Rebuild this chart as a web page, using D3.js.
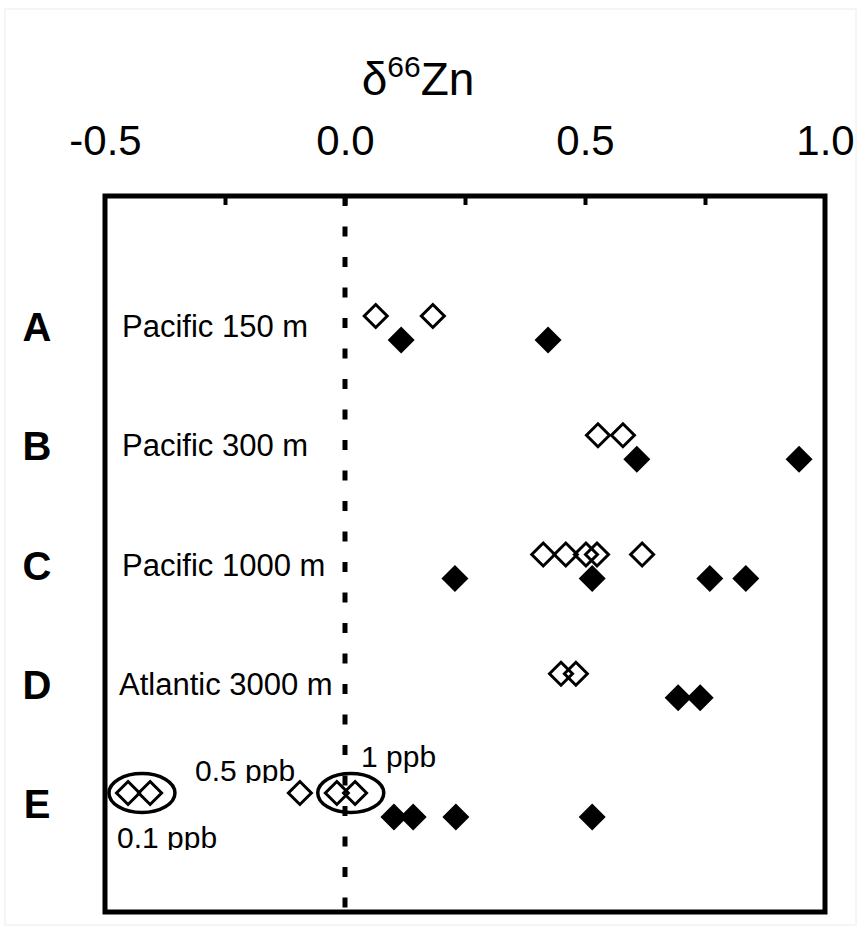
<!DOCTYPE html>
<html>
<head>
<meta charset="utf-8">
<script src="https://cdn.jsdelivr.net/npm/d3@7"></script>
<style>
  body { margin: 0; background: #fff; }
  svg text { font-family: "Liberation Sans", Arial, sans-serif; fill: #000; }
</style>
</head>
<body>
<script>
// rows (samples) and their labels
const rows = ["A", "B", "C", "D", "E"];
const rowLabels = ["Pacific 150 m", "Pacific 300 m", "Pacific 1000 m", "Atlantic 3000 m", ""];

// delta66Zn values
const openValues = [
  [0.064, 0.183],
  [0.527, 0.579],
  [0.413, 0.460, 0.502, 0.525, 0.619],
  [0.450, 0.481],
  [-0.452, -0.406, -0.094, -0.017, 0.021]
];
const filledValues = [
  [0.117, 0.423],
  [0.608, 0.946],
  [0.229, 0.515, 0.760, 0.835],
  [0.694, 0.740],
  [0.102, 0.142, 0.231, 0.515]
];

const xTicks = [-0.5, 0.0, 0.5, 1.0];
const xMinorTicks = [-0.25, 0, 0.25, 0.5, 0.75];

// circled points in row E with their notes
const ringCenters = [-0.423, 0.012];
const notes = ["0.1 ppb", "0.5 ppb", "1 ppb"];

const W = 861, H = 932;
const frame = { left: 105, right: 825, top: 196, bottom: 912 };

const svg = d3.select("body").append("svg")
    .attr("width", W)
    .attr("height", H);

// faint outer border of the picture
svg.append("rect")
    .attr("x", 5).attr("y", 9)
    .attr("width", 851).attr("height", 916)
    .attr("fill", "none")
    .attr("stroke", "#ececec")
    .attr("stroke-width", 1);

const x = d3.scaleLinear()
    .domain([-0.5, 1.0])
    .range([frame.left, frame.right]);

const y = d3.scalePoint()
    .domain(rows)
    .range([328, 805]);

// title
const title = svg.append("text")
    .attr("x", 418)
    .attr("y", 95)
    .attr("text-anchor", "middle")
    .style("font-size", "46px");
title.append("tspan").text("δ");
title.append("tspan").attr("dy", -18).style("font-size", "30px").text("66");
title.append("tspan").attr("dy", 18).text("Zn");

// top axis labels
const axis = svg.append("g")
    .attr("transform", `translate(0,${frame.top})`)
    .call(d3.axisTop(x).tickValues(xTicks).tickSize(0).tickPadding(41));
axis.select(".domain").remove();
axis.selectAll("text")
    .style("font-size", "42px")
    .style("font-family", "Liberation Sans, Arial, sans-serif")
    .text(d => d3.format(".1f")(d).replace("−", "-"));

// inward ticks
const minor = svg.append("g")
    .attr("transform", `translate(0,${frame.top})`)
    .call(d3.axisTop(x).tickValues(xMinorTicks).tickSize(-9).tickFormat(""));
minor.select(".domain").remove();
minor.selectAll("line").attr("stroke", "#000").attr("stroke-width", 4);

// zero line
svg.append("line")
    .attr("x1", x(0)).attr("x2", x(0))
    .attr("y1", frame.top).attr("y2", frame.bottom)
    .attr("stroke", "#000")
    .attr("stroke-width", 5)
    .attr("stroke-dasharray", "10,20.5");

// frame
svg.append("rect")
    .attr("x", frame.left).attr("y", frame.top)
    .attr("width", frame.right - frame.left)
    .attr("height", frame.bottom - frame.top)
    .attr("fill", "none")
    .attr("stroke", "#000")
    .attr("stroke-width", 5);

// row letters
svg.selectAll(".letter")
    .data(rows)
    .enter()
    .append("text")
    .attr("class", "letter")
    .attr("x", 37)
    .attr("y", d => y(d) + 13)
    .attr("text-anchor", "middle")
    .style("font-size", "40px")
    .style("font-weight", "bold")
    .text(d => d);

// row labels
svg.selectAll(".rowlabel")
    .data(rows)
    .enter()
    .append("text")
    .attr("class", "rowlabel")
    .attr("x", (d, i) => i === 3 ? 119 : 122)
    .attr("y", d => y(d) + 9)
    .style("font-size", "31px")
    .text((d, i) => rowLabels[i]);

function diamond(r) {
  const p = d3.path();
  p.moveTo(0, -r);
  p.lineTo(r, 0);
  p.lineTo(0, r);
  p.lineTo(-r, 0);
  p.closePath();
  return p.toString();
}

const openPts = [], filledPts = [];
rows.forEach((r, i) => {
  openValues[i].forEach(v => openPts.push({ row: r, v }));
  filledValues[i].forEach(v => filledPts.push({ row: r, v }));
});

svg.selectAll(".filled")
    .data(filledPts)
    .enter()
    .append("path")
    .attr("class", "filled")
    .attr("d", diamond(13.5))
    .attr("transform", d => `translate(${x(d.v)},${y(d.row) + 12})`)
    .attr("fill", "#000");

svg.selectAll(".open")
    .data(openPts)
    .enter()
    .append("path")
    .attr("class", "open")
    .attr("d", diamond(11.5))
    .attr("transform", d => `translate(${x(d.v)},${y(d.row) - 12})`)
    .attr("fill", "none")
    .attr("stroke", "#000")
    .attr("stroke-width", 3);

// rings around row E points
svg.selectAll(".ring")
    .data(ringCenters)
    .enter()
    .append("ellipse")
    .attr("class", "ring")
    .attr("cx", d => x(d))
    .attr("cy", y("E") - 12)
    .attr("rx", 33)
    .attr("ry", 19.5)
    .attr("fill", "none")
    .attr("stroke", "#000")
    .attr("stroke-width", 3.5);

// notes, the two lower ones cut at the baseline like the original
const defs = svg.append("defs");
const noteSpec = [
  { x: 117, y: 848, size: 30, clip: 850 },
  { x: 195, y: 781, size: 30, clip: 783 },
  { x: 361, y: 767, size: 30, clip: null }
];
noteSpec.forEach((n, i) => {
  const t = svg.append("text")
      .attr("x", n.x)
      .attr("y", n.y)
      .style("font-size", n.size + "px")
      .text(notes[i]);
  if (n.clip) {
    defs.append("clipPath").attr("id", "clip" + i)
      .append("rect")
      .attr("x", 0).attr("y", 0)
      .attr("width", W).attr("height", n.clip);
    t.attr("clip-path", `url(#clip${i})`);
  }
});
</script>
</body>
</html>
